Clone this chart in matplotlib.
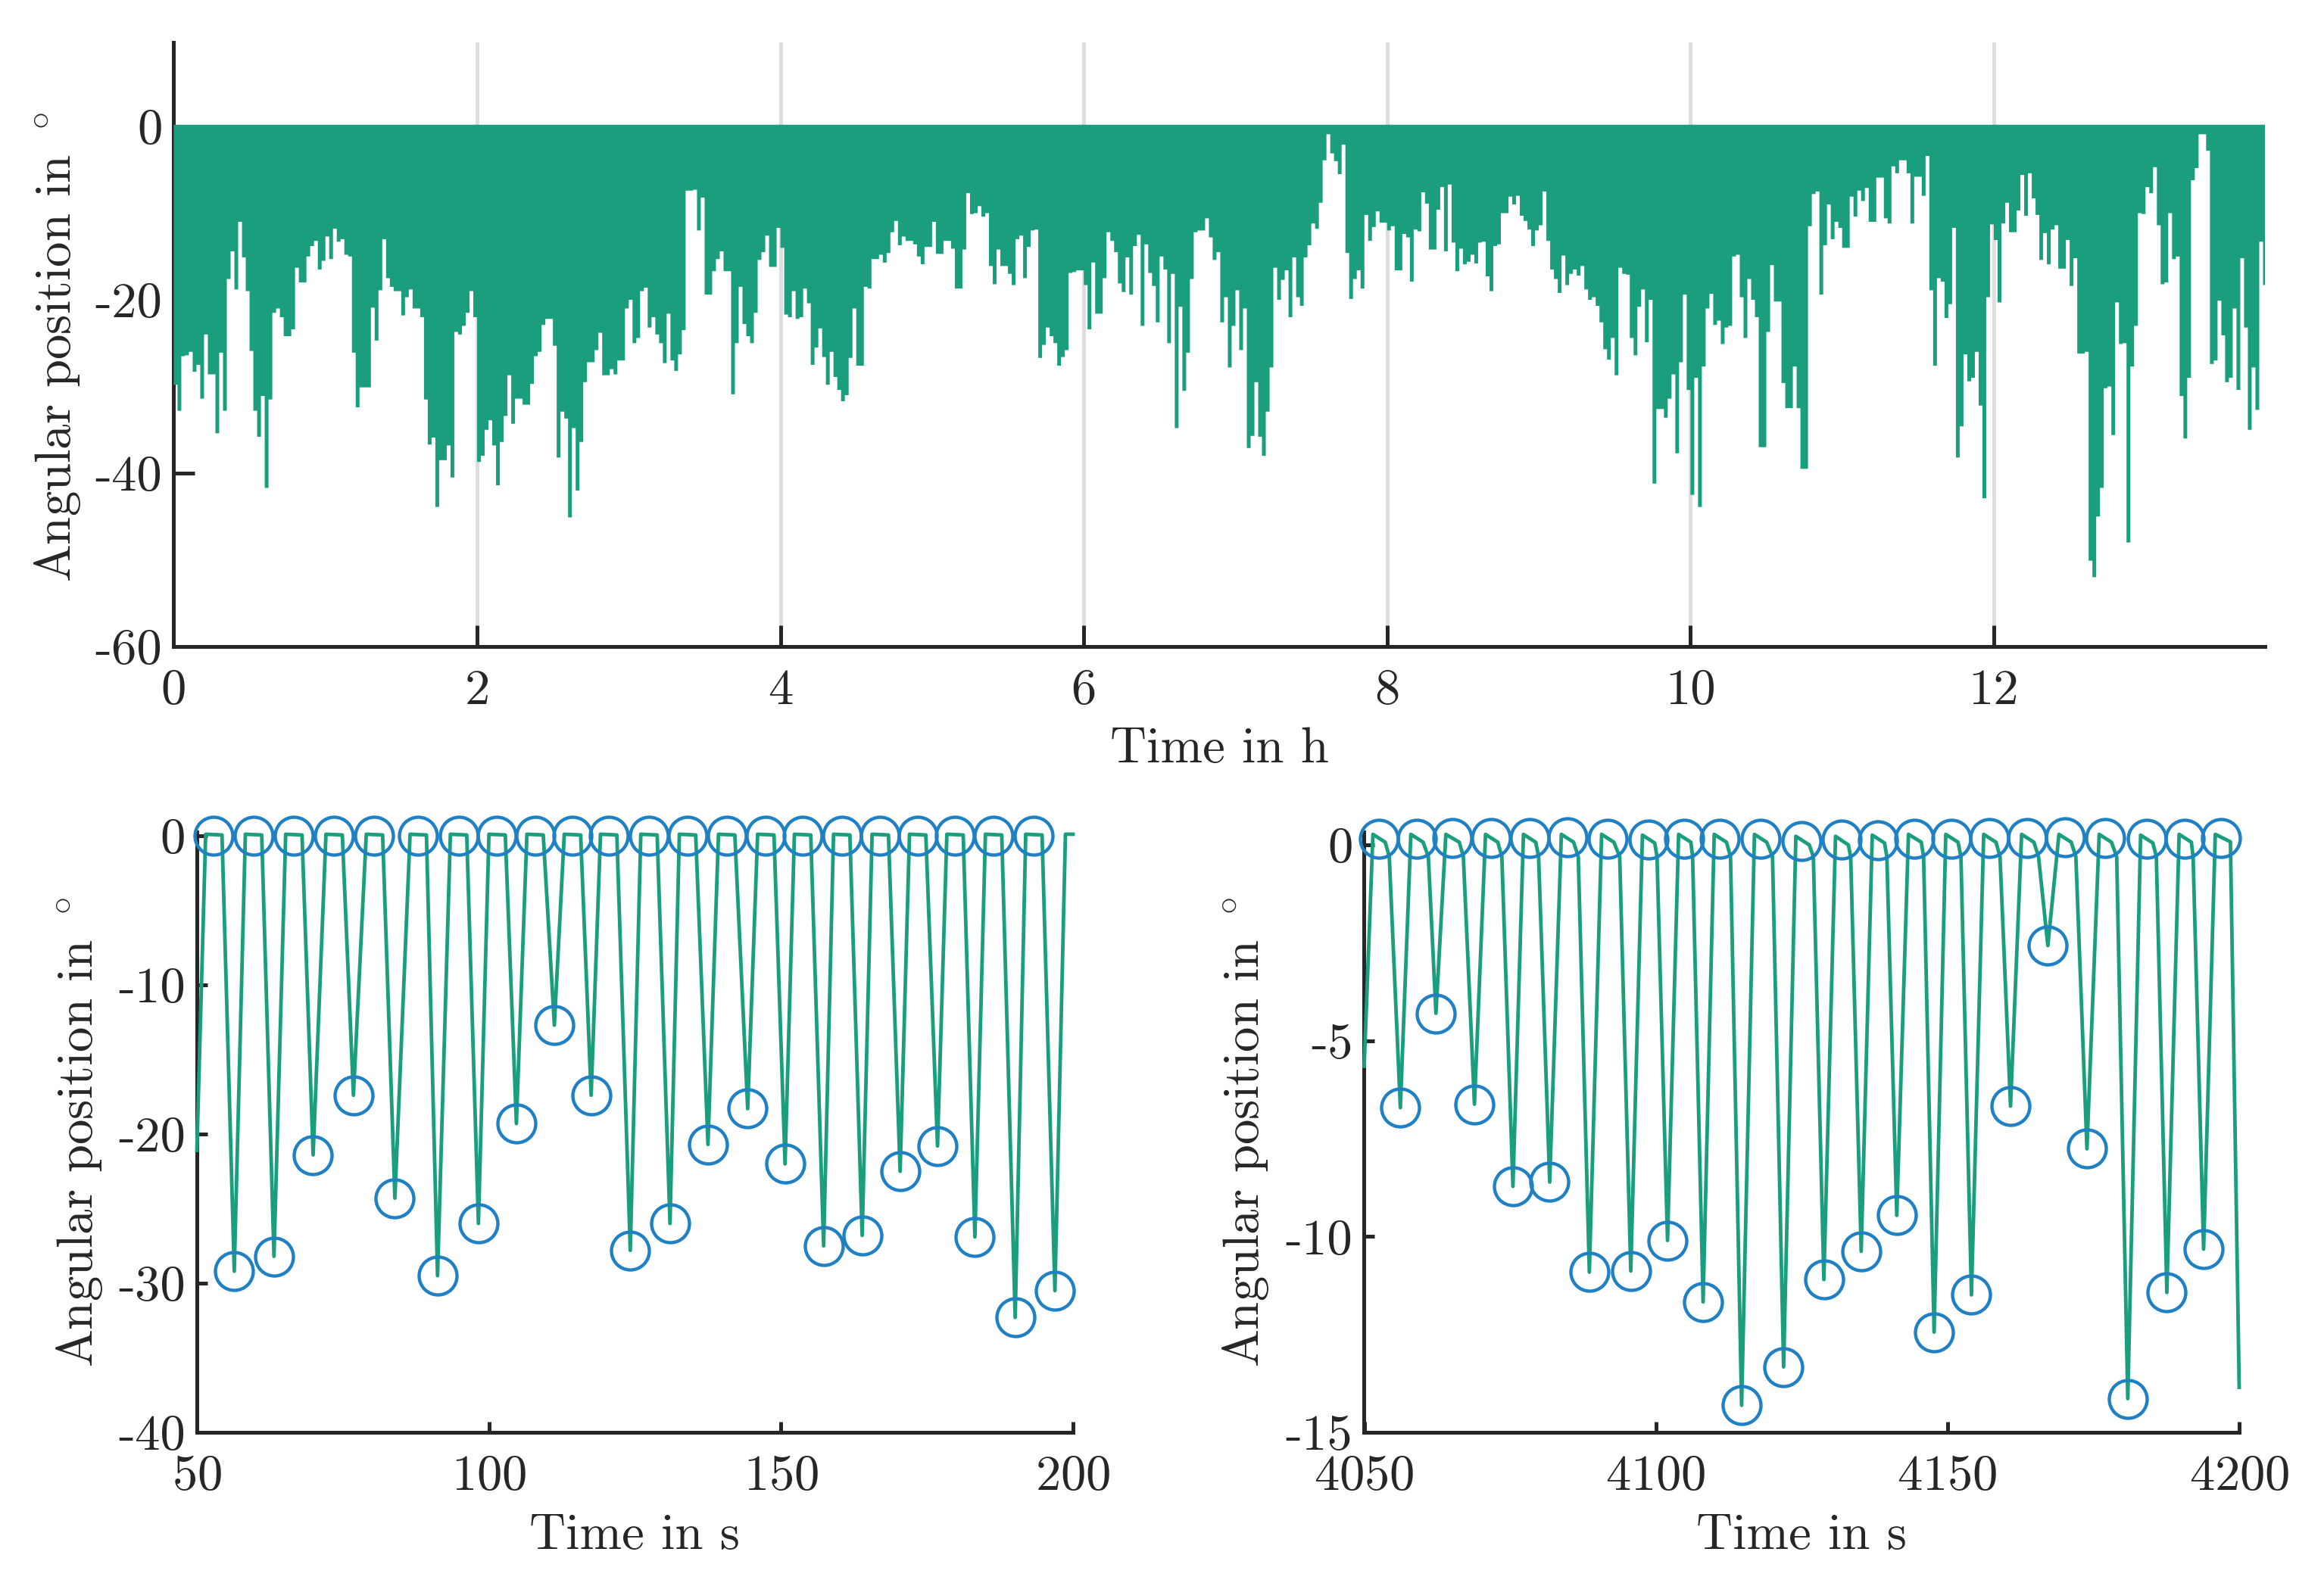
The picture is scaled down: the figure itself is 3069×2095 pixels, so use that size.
import numpy as np
import matplotlib
matplotlib.use('Agg')
import matplotlib.pyplot as plt

plt.rcParams['font.family'] = ['cmr10', 'DejaVu Serif']
plt.rcParams['mathtext.fontset'] = 'cm'
plt.rcParams['axes.formatter.use_mathtext'] = True
plt.rcParams['axes.unicode_minus'] = False

GREEN = '#1A9E7D'
BLUE = '#1F80C4'
DARK = '#262626'
GRID = '#DEDEDE'

W, H = 3070, 2095

# Lower envelope of the long recording, one value every 0.025 h (deg)
DT_H = 0.025
envelope = [
    -29.8, -32.8, -26.5, -26.4, -26.0, -28.3, -27.5, -31.4, -24.0, -28.6, -28.6, -35.4,
    -26.1, -32.8, -17.6, -14.4, -18.8, -11.0, -15.1, -19.0, -25.9, -32.8, -35.8, -31.1,
    -41.7, -31.5, -21.5, -21.0, -22.0, -24.2, -24.2, -23.4, -16.3, -18.0, -18.0, -15.0,
    -13.8, -13.2, -16.5, -15.5, -12.7, -15.3, -11.8, -13.3, -13.0, -14.8, -15.0, -26.1,
    -32.4, -30.1, -30.1, -30.1, -20.9, -24.7, -18.9, -13.0, -17.5, -18.5, -19.0, -19.0,
    -21.8, -19.7, -18.8, -21.0, -21.0, -22.0, -31.5, -36.7, -35.9, -43.9, -38.5, -38.5,
    -36.8, -40.5, -23.7, -24.0, -23.0, -21.5, -19.0, -22.0, -38.7, -38.0, -35.0, -33.9,
    -36.8, -41.4, -36.4, -33.4, -28.7, -34.3, -31.4, -31.4, -32.1, -32.1, -29.7, -26.5,
    -26.0, -22.9, -22.2, -22.2, -25.3, -38.2, -32.9, -33.7, -45.1, -34.8, -42.0, -36.4,
    -29.5, -27.2, -27.2,
    -25.8, -23.8, -28.7, -28.7, -28.0, -28.6, -27.0, -27.0, -21.0, -20.0, -25.0, -24.4,
    -19.0, -18.6, -23.2, -22.0, -24.0, -25.0, -27.3, -21.6, -27.0, -28.2, -26.3, -23.5,
    -7.4, -7.4, -7.3, -12.0, -8.2, -19.4, -19.4, -16.7, -15.3, -14.4, -16.7, -16.7,
    -30.9, -25.0, -18.5, -22.8, -24.2, -25.0, -21.5, -15.4, -14.5, -12.6, -16.2, -16.2,
    -11.7, -14.0, -21.7, -22.0, -19.0, -22.2, -22.0, -18.7, -20.4, -27.5, -25.5, -23.3,
    -26.6, -29.8, -26.0, -28.9, -30.4, -31.7, -31.0, -26.7, -21.0, -27.6, -27.6, -18.5,
    -18.7, -15.3, -15.3, -14.8, -15.7, -14.6, -12.2, -10.9, -13.7, -12.7, -13.2, -13.2,
    -13.6, -15.0, -15.9, -13.9, -13.9, -11.0, -14.7, -14.7, -13.2, -13.2, -14.1, -18.7,
    -18.7, -14.2, -7.7, -10.1, -10.0, -9.2, -10.4, -10.0, -16.1, -18.2, -14.2, -16.1,
    -16.1, -17.0, -18.3,
    -13.0, -12.6, -17.5, -13.9, -12.0, -11.9, -26.7, -25.2, -23.2, -24.2, -25.0, -27.6,
    -26.6, -25.8, -16.9, -16.8, -16.6, -16.6, -18.3, -23.4, -15.7, -21.6, -21.6, -17.5,
    -12.2, -13.2, -14.5, -18.1, -19.1, -15.1, -19.4, -13.8, -12.5, -23.0, -13.6, -16.9,
    -18.4, -22.6, -15.0, -16.5, -25.0, -17.0, -34.8, -20.8, -30.5, -26.1, -17.6, -12.2,
    -12.0, -12.0, -10.6, -12.8, -15.4, -14.5, -22.6, -19.7, -27.8, -23.0, -18.9, -25.8,
    -21.0, -37.1, -35.7, -29.5, -35.8, -38.0, -32.9, -27.8, -16.3, -20.0, -17.7, -16.6,
    -22.0, -15.1, -19.7, -20.7, -15.1, -13.7, -11.2, -11.8, -8.8, -3.9, -0.9, -3.1,
    -4.0, -5.5, -2.1, -14.6, -19.9, -17.6, -16.6, -18.7, -10.2, -13.2, -11.6, -9.8,
    -11.1, -11.1, -12.0, -11.5, -16.6, -16.6, -12.4, -12.8, -17.9, -11.9, -12.1, -7.6,
    -8.9, -14.2, -14.2,
    -9.6, -7.0, -14.4, -6.7, -13.4, -16.7, -14.1, -15.9, -15.6, -14.8, -15.8, -13.4,
    -13.3, -17.3, -19.0, -13.8, -13.6, -10.0, -10.0, -8.1, -9.0, -8.0, -10.3, -10.9,
    -11.9, -13.8, -12.0, -11.4, -7.5, -13.2, -16.5, -17.6, -19.2, -14.9, -18.3, -17.0,
    -16.5, -17.2, -16.1, -18.8, -20.0, -19.7, -20.7, -22.6, -25.7, -26.9, -24.4, -28.7,
    -16.3, -17.0, -17.1, -24.4, -26.4, -20.8, -18.8, -24.9, -20.0, -41.2, -32.6, -32.6,
    -33.6, -31.4, -28.6, -37.7, -27.2, -19.4, -30.4, -42.5, -29.0, -43.9, -27.7, -21.0,
    -19.3, -22.9, -22.4, -25.1, -23.2, -23.0, -15.0, -14.8, -19.7, -24.4, -17.6, -20.0,
    -22.0, -37.0, -37.0, -23.7, -16.0, -20.2, -20.2, -29.6, -32.5, -32.5, -27.7, -32.5,
    -39.5, -39.5, -11.5, -7.8, -7.5, -19.4, -13.7, -9.0, -13.0, -11.0, -11.7, -14.0,
    -14.0, -8.1, -10.4,
    -7.4, -8.6, -7.1, -11.0, -11.0, -5.9, -5.9, -10.6, -11.2, -4.6, -5.4, -3.9,
    -3.9, -5.4, -11.2, -5.8, -5.8, -8.0, -3.4, -18.9, -27.6, -17.5, -17.9, -22.1,
    -20.5, -11.7, -38.2, -34.6, -26.3, -29.4, -29.0, -26.0, -32.2, -42.9, -19.7, -11.3,
    -13.1, -20.3, -11.2, -8.8, -12.2, -12.2, -9.7, -5.6, -10.3, -5.4, -8.3, -10.2,
    -15.4, -12.3, -15.9, -11.9, -11.4, -16.4, -16.4, -13.1, -18.4, -15.2, -26.2, -26.2,
    -26.0, -50.1, -52.0, -45.0, -41.7, -30.2, -30.0, -35.6, -20.3, -25.1, -25.0, -48.0,
    -27.7, -23.0, -10.0, -10.1, -7.0, -7.7, -4.7, -11.4, -18.2, -18.0, -10.0, -15.3,
    -15.0, -31.1, -36.0, -29.0, -6.2, -4.8, -0.9, -0.9, -2.8, -27.4, -27.0, -20.1,
    -24.1, -29.5, -29.0, -21.0, -30.4, -15.2, -23.2, -35.0, -27.8, -32.7, -13.3, -18.3,
]

# Window at the start of the recording
left_t = [
    50, 51.5, 54.3, 56.4, 58.3, 61.1, 63.2, 65.2, 68.0, 69.9, 72.1, 74.9, 76.8,
    79.0, 81.8, 83.9, 86.5, 89.3, 91.2, 93.4, 96.2, 98.2, 100.0, 102.8, 104.7,
    106.5, 109.3, 111.2, 112.9, 115.7, 117.5, 119.1, 121.9, 124.2, 126.0, 128.8, 131.0,
    132.6, 135.4, 137.5, 139.3, 142.1, 144.3, 146.0, 148.8, 150.7, 152.3, 155.1, 157.3,
    159.0, 161.8, 163.9, 165.6, 168.4, 170.4, 172.0, 174.8, 176.8, 178.4, 181.2, 183.2,
    185.0, 187.8, 190.1, 191.9, 194.7, 196.9, 198.7, 200,
]
left_v = [
    -21.1, 0.1, 0.05, -29.2, 0.1, 0.05, -28.2, 0.1, 0.05, -21.4, 0.1, 0.05, -17.4,
    0.1, 0.05, -24.3, 0.1, 0.05, -29.5, 0.1, 0.05, -26.0, 0.1, 0.05, -19.3,
    0.1, 0.05, -12.7, 0.1, 0.05, -17.4, 0.1, 0.05, -27.8, 0.1, 0.05, -26.0,
    0.1, 0.05, -20.7, 0.1, 0.05, -18.3, 0.1, 0.05, -22.0, 0.1, 0.05, -27.5,
    0.1, 0.05, -26.8, 0.1, 0.05, -22.5, 0.1, 0.05, -20.8, 0.1, 0.05, -26.9,
    0.1, 0.05, -32.3, 0.1, 0.05, -30.5, 0.1, 0.1,
]
left_peak_t = [52.9, 59.7, 66.6, 73.5, 80.4, 87.9, 94.8, 101.4, 107.9, 114.3, 120.5,
               127.4, 134, 140.7, 147.4, 153.7, 160.4, 167, 173.4, 179.8, 186.4, 193.3]
left_peak_v = [0.0] * 22
left_trough_t = [56.4, 63.2, 69.9, 76.8, 83.9, 91.2, 98.2, 104.7, 111.2, 117.5, 124.2,
                 131, 137.5, 144.3, 150.7, 157.3, 163.9, 170.4, 176.8, 183.2, 190.1, 196.9]
left_trough_v = [-29.2, -28.2, -21.4, -17.4, -24.3, -29.5, -26.0, -19.3, -12.7, -17.4, -27.8,
                 -26.0, -20.7, -18.3, -22.0, -27.5, -26.8, -22.5, -20.8, -26.9, -32.3, -30.5]

# Window later in the recording
right_t = [
    4050, 4051.5, 4053.6, 4054.3, 4056.2, 4058.0, 4060.1, 4061.0, 4062.3,
    4064.0, 4066.3, 4067.0, 4068.9, 4070.8, 4072.9, 4073.6, 4075.5,
    4077.3, 4079.4, 4079.9, 4081.8, 4083.8, 4085.9, 4086.7, 4088.6,
    4090.7, 4092.8, 4093.8, 4095.7, 4097.7, 4099.8, 4100.2, 4102.0,
    4103.9, 4106.0, 4106.3, 4108.1, 4110.0, 4112.1, 4112.8, 4114.7,
    4116.9, 4119.0, 4120.0, 4121.9, 4124.0, 4126.3, 4127.0, 4128.8,
    4130.8, 4133.0, 4133.4, 4135.2, 4137.1, 4139.2, 4139.6, 4141.3,
    4143.3, 4145.5, 4145.9, 4147.7, 4149.7, 4151.8, 4152.3, 4154.1,
    4156.2, 4158.3, 4159.0, 4160.8, 4162.7, 4164.8, 4165.6, 4167.2,
    4169.1, 4171.2, 4172.0, 4173.9, 4176.0, 4178.1, 4179.0, 4180.9,
    4183.1, 4185.2, 4185.8, 4187.6, 4189.7, 4191.8, 4192.1, 4193.9,
    4195.9, 4198.5, 4200,
]
right_v = [
    -5.65, 0.27, 0.07, -0.3, -6.71, 0.27, 0.07, -0.3, -4.3,
    0.27, 0.07, -0.3, -6.62, 0.27, 0.07, -0.3, -8.72,
    0.27, 0.07, -0.3, -8.61, 0.27, 0.07, -0.3, -10.91,
    0.27, 0.07, -0.3, -10.88, 0.25, 0.05, -0.3, -10.1,
    0.27, 0.07, -0.3, -11.67, 0.27, 0.07, -0.3, -14.31,
    0.27, 0.07, -0.3, -13.33, 0.22, 0.0, -0.3, -11.1,
    0.22, 0.0, -0.3, -10.38, 0.25, 0.05, -0.3, -9.46,
    0.27, 0.07, -0.3, -12.44, 0.27, 0.07, -0.3, -11.49,
    0.27, 0.07, -0.3, -6.67, 0.27, 0.07, -0.3, -2.57,
    0.27, 0.07, -0.3, -7.76, 0.27, 0.07, -0.3, -14.14,
    0.25, 0.05, -0.3, -11.43, 0.27, 0.07, -0.3, -10.32,
    0.27, 0.08, -13.85,
]
right_peak_t = [4052.5, 4059, 4065.1, 4071.8, 4078.3, 4084.8, 4091.7, 4098.7, 4104.9, 4111, 4117.9, 4125,
                4131.8, 4138.1, 4144.3, 4150.7, 4157.2, 4163.7, 4170.1, 4177, 4184.1, 4190.7, 4196.9]
right_peak_v = [0.15, 0.15, 0.18, 0.18, 0.18, 0.19, 0.15, 0.14, 0.15, 0.16, 0.16, 0.10,
                0.13, 0.12, 0.16, 0.16, 0.18, 0.18, 0.20, 0.18, 0.15, 0.15, 0.18]
right_trough_t = [4056.2, 4062.3, 4068.9, 4075.5, 4081.8, 4088.6, 4095.7, 4102, 4108.1, 4114.7, 4121.9,
                  4128.8, 4135.2, 4141.3, 4147.7, 4154.1, 4160.8, 4167.2, 4173.9, 4180.9, 4187.6, 4193.9]
right_trough_v = [-6.71, -4.3, -6.62, -8.72, -8.61, -10.91, -10.88, -10.1, -11.67, -14.31, -13.33,
                  -11.1, -10.38, -9.46, -12.44, -11.49, -6.67, -2.57, -7.76, -14.14, -11.43, -10.32]


def add_axes(left, right, top, bottom):
    return fig.add_axes([left / W, 1 - bottom / H, (right - left) / W, (bottom - top) / H])


def style(ax, tick_len):
    for side in ['top', 'right']:
        ax.spines[side].set_visible(False)
    for side in ['left', 'bottom']:
        ax.spines[side].set_linewidth(1.2)
        ax.spines[side].set_color(DARK)
    ax.tick_params(axis='x', direction='in', length=tick_len, width=1.2, color=DARK,
                   labelcolor=DARK, labelsize=16, pad=7)
    ax.tick_params(axis='y', direction='in', length=tick_len, width=1.2, color=DARK,
                   labelcolor=DARK, labelsize=16, pad=3.6)


def window(ax, t, v, pk_t, pk_v, tr_t, tr_v):
    ax.plot(t, v, color=GREEN, lw=1.15, solid_joinstyle='round', zorder=3, clip_on=False)
    for px, py in [(pk_t, pk_v), (tr_t, tr_v)]:
        ax.plot(px, py, 'o', mfc='none', mec=BLUE, ms=12, mew=1.05, zorder=4, clip_on=False)


fig = plt.figure(figsize=(W / 300, H / 300), dpi=300)

# long recording
ax1 = add_axes(229.4, 2991.5, 56, 854)
edges = np.arange(len(envelope) + 1) * DT_H
ax1.stairs(envelope, edges, baseline=0.2, fill=True, color=GREEN, lw=0, zorder=3)
ax1.set_xlim(0, 13.79)
ax1.set_ylim(-60, 9.7)
ax1.set_xticks([0, 2, 4, 6, 8, 10, 12])
ax1.set_xticklabels(['0', '2', '4', '6', '8', '10', '12'])
ax1.set_yticks([0, -20, -40, -60])
ax1.set_yticklabels(['0', '-20', '-40', '-60'])
ax1.grid(axis='x', color=GRID, lw=1.2, zorder=0)
ax1.set_axisbelow(True)
style(ax1, 6.7)
ax1.set_xlabel('Time in h', fontsize=16, color=DARK)
ax1.set_ylabel('Angular position in $^\\circ$', fontsize=16, color=DARK)
ax1.xaxis.set_label_coords(0.5, -0.1328)
ax1.yaxis.set_label_coords(-0.0436, 0.495)

# first window
ax2 = add_axes(260, 1417, 1099, 1892)
window(ax2, left_t, left_v, left_peak_t, left_peak_v, left_trough_t, left_trough_v)
ax2.set_xlim(50, 200)
ax2.set_ylim(-40, 0.25)
ax2.set_xticks([50, 100, 150, 200])
ax2.set_yticks([0, -10, -20, -30, -40])
ax2.set_yticklabels(['0', '-10', '-20', '-30', '-40'])
style(ax2, 3.4)
ax2.set_xlabel('Time in s', fontsize=16, color=DARK)
ax2.set_ylabel('Angular position in $^\\circ$', fontsize=16, color=DARK)
ax2.xaxis.set_label_coords(0.5, -0.136)
ax2.yaxis.set_label_coords(-0.1054, 0.5)

# second window
ax3 = add_axes(1801.5, 2957, 1099, 1892)
window(ax3, right_t, right_v, right_peak_t, right_peak_v, right_trough_t, right_trough_v)
ax3.set_xlim(4050, 4200)
ax3.set_ylim(-15, 0.33)
ax3.set_xticks([4050, 4100, 4150, 4200])
ax3.set_yticks([0, -5, -10, -15])
ax3.set_yticklabels(['0', '-5', '-10', '-15'])
style(ax3, 3.4)
ax3.set_xlabel('Time in s', fontsize=16, color=DARK)
ax3.set_ylabel('Angular position in $^\\circ$', fontsize=16, color=DARK)
ax3.xaxis.set_label_coords(0.5, -0.136)
ax3.yaxis.set_label_coords(-0.1069, 0.5)

fig.savefig('out.png', dpi=300)
